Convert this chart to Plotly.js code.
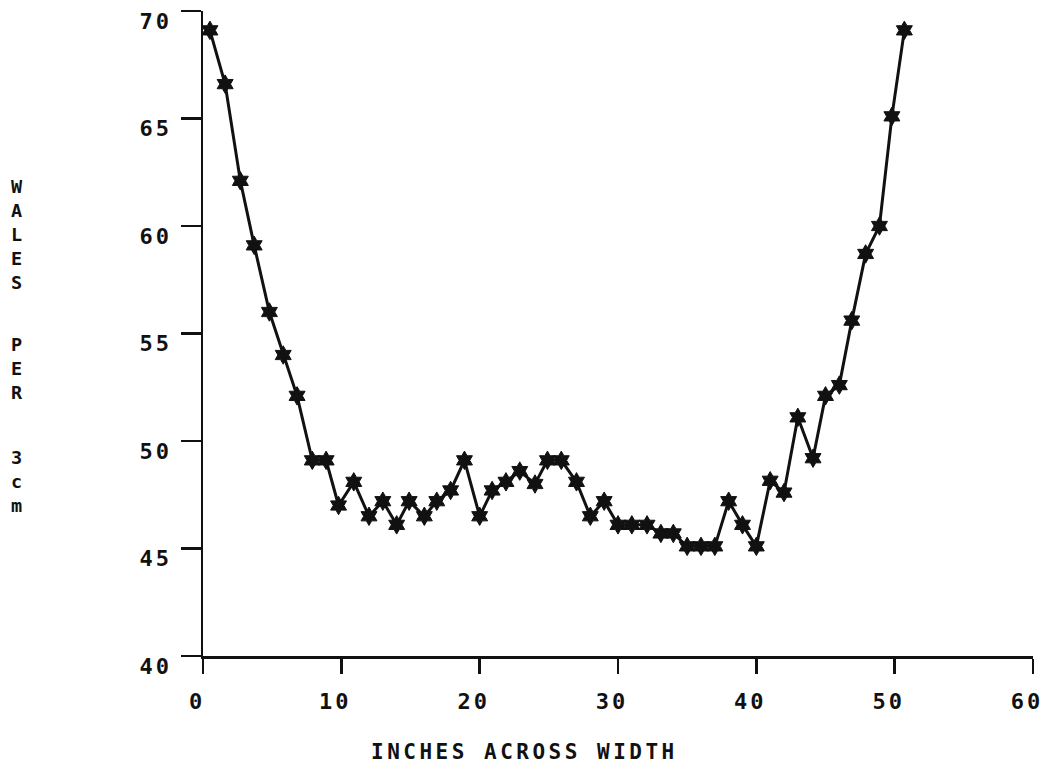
<!DOCTYPE html>
<html>
<head>
<meta charset="utf-8">
<script src="https://cdn.plot.ly/plotly-3.0.1.min.js"></script>
<style>
  html, body { margin: 0; padding: 0; background: #fff; }
  #chart { width: 1050px; height: 772px; }
  .xtick text, .ytick text { letter-spacing: 3px; }
  .annotation-text { letter-spacing: 3.5px; }
</style>
</head>
<body>
<div id="chart"></div>
<script>
// Inches across width
const inches = [0.5, 1.6, 2.7, 3.7, 4.8, 5.8, 6.8, 7.9, 8.9, 9.8,
                10.9, 12.0, 13.0, 14.0, 14.9, 16.0, 16.9, 17.9, 18.9, 20.0,
                20.9, 21.9, 22.9, 24.0, 24.9, 25.9, 27.0, 28.0, 29.0, 30.0,
                31.0, 32.1, 33.1, 34.0, 35.0, 36.0, 37.0, 38.0, 39.0, 40.0,
                41.0, 42.0, 43.0, 44.1, 45.0, 46.0, 46.9, 47.9, 48.9, 49.8,
                50.7];
// Wales per 3 cm
const wales = [69.1, 66.6, 62.1, 59.1, 56.0, 54.0, 52.1, 49.1, 49.1, 47.0,
               48.1, 46.5, 47.2, 46.1, 47.2, 46.5, 47.2, 47.7, 49.1, 46.5,
               47.7, 48.1, 48.6, 48.0, 49.1, 49.1, 48.1, 46.5, 47.2, 46.1,
               46.1, 46.1, 45.7, 45.7, 45.1, 45.1, 45.1, 47.2, 46.1, 45.1,
               48.15, 47.6, 51.1, 49.2, 52.1, 52.6, 55.6, 58.7, 60.0, 65.1,
               69.1];
const xTickVals = [0, 10, 20, 30, 40, 50, 60];
const xTickText = ["0", "10", "20", "30", "40", "50", "60"];
const yTickVals = [40, 45, 50, 55, 60, 65, 70];
const yTickText = ["40", "45", "50", "55", "60", "65", "70"];
const xTitle = "INCHES ACROSS WIDTH";
const yTitleWords = ["WALES", "PER", "3cm"];

const FONT = "DejaVu Sans Mono, Liberation Mono, monospace";

const trace = {
  x: inches,
  y: wales,
  type: "scatter",
  mode: "lines+markers",
  line: { color: "#111", width: 3 },
  marker: { symbol: "hexagram", size: 14, color: "#111",
            line: { color: "#111", width: 1 } },
  cliponaxis: false,
  hoverinfo: "x+y"
};

const wordY = [0.654, 0.445, 0.270];
const annotations = yTitleWords.map((w, i) => ({
  text: w.split("").join("<br>"),
  xref: "paper", yref: "paper",
  x: -0.2217, y: wordY[i],
  xanchor: "center", yanchor: "middle",
  showarrow: false,
  font: { family: FONT, size: 18.5, color: "#111", weight: "bold" }
}));
annotations.push({
  text: xTitle,
  xref: "paper", yref: "paper",
  x: 0.387, y: -0.149,
  xanchor: "center", yanchor: "middle",
  showarrow: false,
  font: { family: FONT, size: 21, color: "#111", weight: "bold" }
});

const layout = {
  width: 1050,
  height: 772,
  margin: { l: 203, r: 17, t: 11, b: 116 },
  paper_bgcolor: "#fff",
  plot_bgcolor: "#fff",
  showlegend: false,
  font: { family: FONT, color: "#111" },
  xaxis: {
    range: [0, 60],
    tickvals: xTickVals,
    ticktext: xTickText,
    ticks: "outside",
    ticklen: 15,
    tickwidth: 2.5,
    tickcolor: "#111",
    showline: true,
    linewidth: 2.5,
    linecolor: "#111",
    showgrid: false,
    zeroline: false,
    ticklabelshift: -6,
    ticklabelstandoff: 9,
    ticklabeloverflow: "allow",
    tickfont: { family: FONT, size: 22, color: "#111", weight: "bold" }
  },
  yaxis: {
    range: [40, 70],
    tickvals: yTickVals,
    ticktext: yTickText,
    ticks: "outside",
    ticklen: 20,
    tickwidth: 2.5,
    tickcolor: "#111",
    showline: true,
    linewidth: 2.5,
    linecolor: "#111",
    showgrid: false,
    zeroline: false,
    ticklabelshift: 10,
    ticklabelstandoff: 4,
    ticklabeloverflow: "allow",
    tickfont: { family: FONT, size: 22, color: "#111", weight: "bold" }
  },
  annotations: annotations
};

Plotly.newPlot("chart", [trace], layout, { displayModeBar: false, staticPlot: true });
</script>
</body>
</html>
